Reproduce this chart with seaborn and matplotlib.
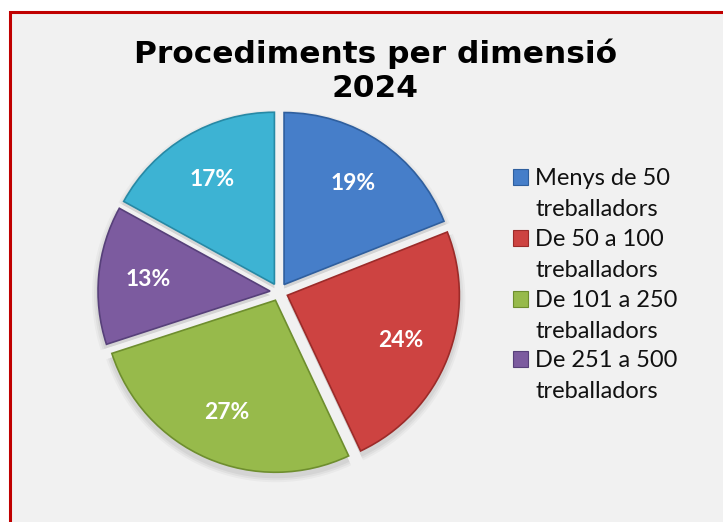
import matplotlib
matplotlib.use("Agg")
import matplotlib.pyplot as plt
from matplotlib.patches import Rectangle
import seaborn as sns

# Data
categories = [
    "Menys de 50 treballadors",
    "De 50 a 100 treballadors",
    "De 101 a 250 treballadors",
    "De 251 a 500 treballadors",
    "Més de 500 treballadors",
]
shares = [19, 24, 27, 13, 17]
pct_labels = ["19%", "24%", "27%", "13%", "17%"]
title_text = "Procediments per dimensió\n2024"

sns.set_theme(style="white")
palette = sns.color_palette(["#467ec9", "#cd4341", "#97ba4b", "#7c5b9f", "#3db3d3"])
edge_palette = sns.color_palette(["#2f5f9e", "#9c2b29", "#6e8e2e", "#57407a", "#2789a5"])

W, H = 723, 522
fig = plt.figure(figsize=(W / 100, H / 100), dpi=100, facecolor="white")
ax = fig.add_axes([0, 0, 1, 1])
ax.set_xlim(0, W)
ax.set_ylim(0, H)
ax.set_axis_off()

# chart area with red frame
ax.add_patch(Rectangle((9.5, -20), W + 40, H - 11.5 + 20, facecolor="#f1f1f1",
                       edgecolor="#c00000", linewidth=2.2, zorder=0))

cx, cy, r = 279, H - 292, 172
explode = [9] * len(shares)

# soft shadow under the pie
for k, a in enumerate([0.05, 0.04, 0.03]):
    ax.pie(shares, radius=r + 2 + 2 * k, center=(cx, cy - 4), startangle=90,
           counterclock=False, explode=explode,
           colors=[(0, 0, 0, a)] * len(shares),
           wedgeprops=dict(linewidth=0), frame=True)

wedges, texts, autotexts = ax.pie(
    shares, radius=r, center=(cx, cy), startangle=90, counterclock=False,
    explode=explode, colors=palette, labels=None,
    autopct=lambda p: f"{p:.0f}%", pctdistance=0.71,
    wedgeprops=dict(linewidth=1.2), frame=True,
    textprops=dict(color="white", fontsize=16.5, fontweight="bold", family="Lato"),
)
for w, ec in zip(wedges, edge_palette):
    w.set_edgecolor(ec)
for t, lab in zip(autotexts, pct_labels):
    t.set_text(lab)

ax.set_xlim(0, W)
ax.set_ylim(0, H)
ax.set_aspect("equal")

# title (anchor is the baseline of the last line)
ax.text(375.5, H - 97, title_text, ha="center", va="baseline",
        fontsize=22.5, fontweight="bold", family="DejaVu Sans",
        linespacing=1.2, color="black")

# legend (four visible entries)
for i in range(4):
    name = categories[i]
    first, second = name.rsplit(" ", 1)
    base = 185 + 60.8 * i
    ax.add_patch(Rectangle((513, H - base), 15, 16, facecolor=palette[i],
                           edgecolor=edge_palette[i], linewidth=0.8))
    ax.text(535, H - base, first, ha="left", va="baseline", fontsize=17,
            family="Lato", color="#111111")
    ax.text(535, H - base - 31, second, ha="left", va="baseline", fontsize=17,
            family="Lato", color="#111111")

fig.savefig("out.png", dpi=100, facecolor="white")
